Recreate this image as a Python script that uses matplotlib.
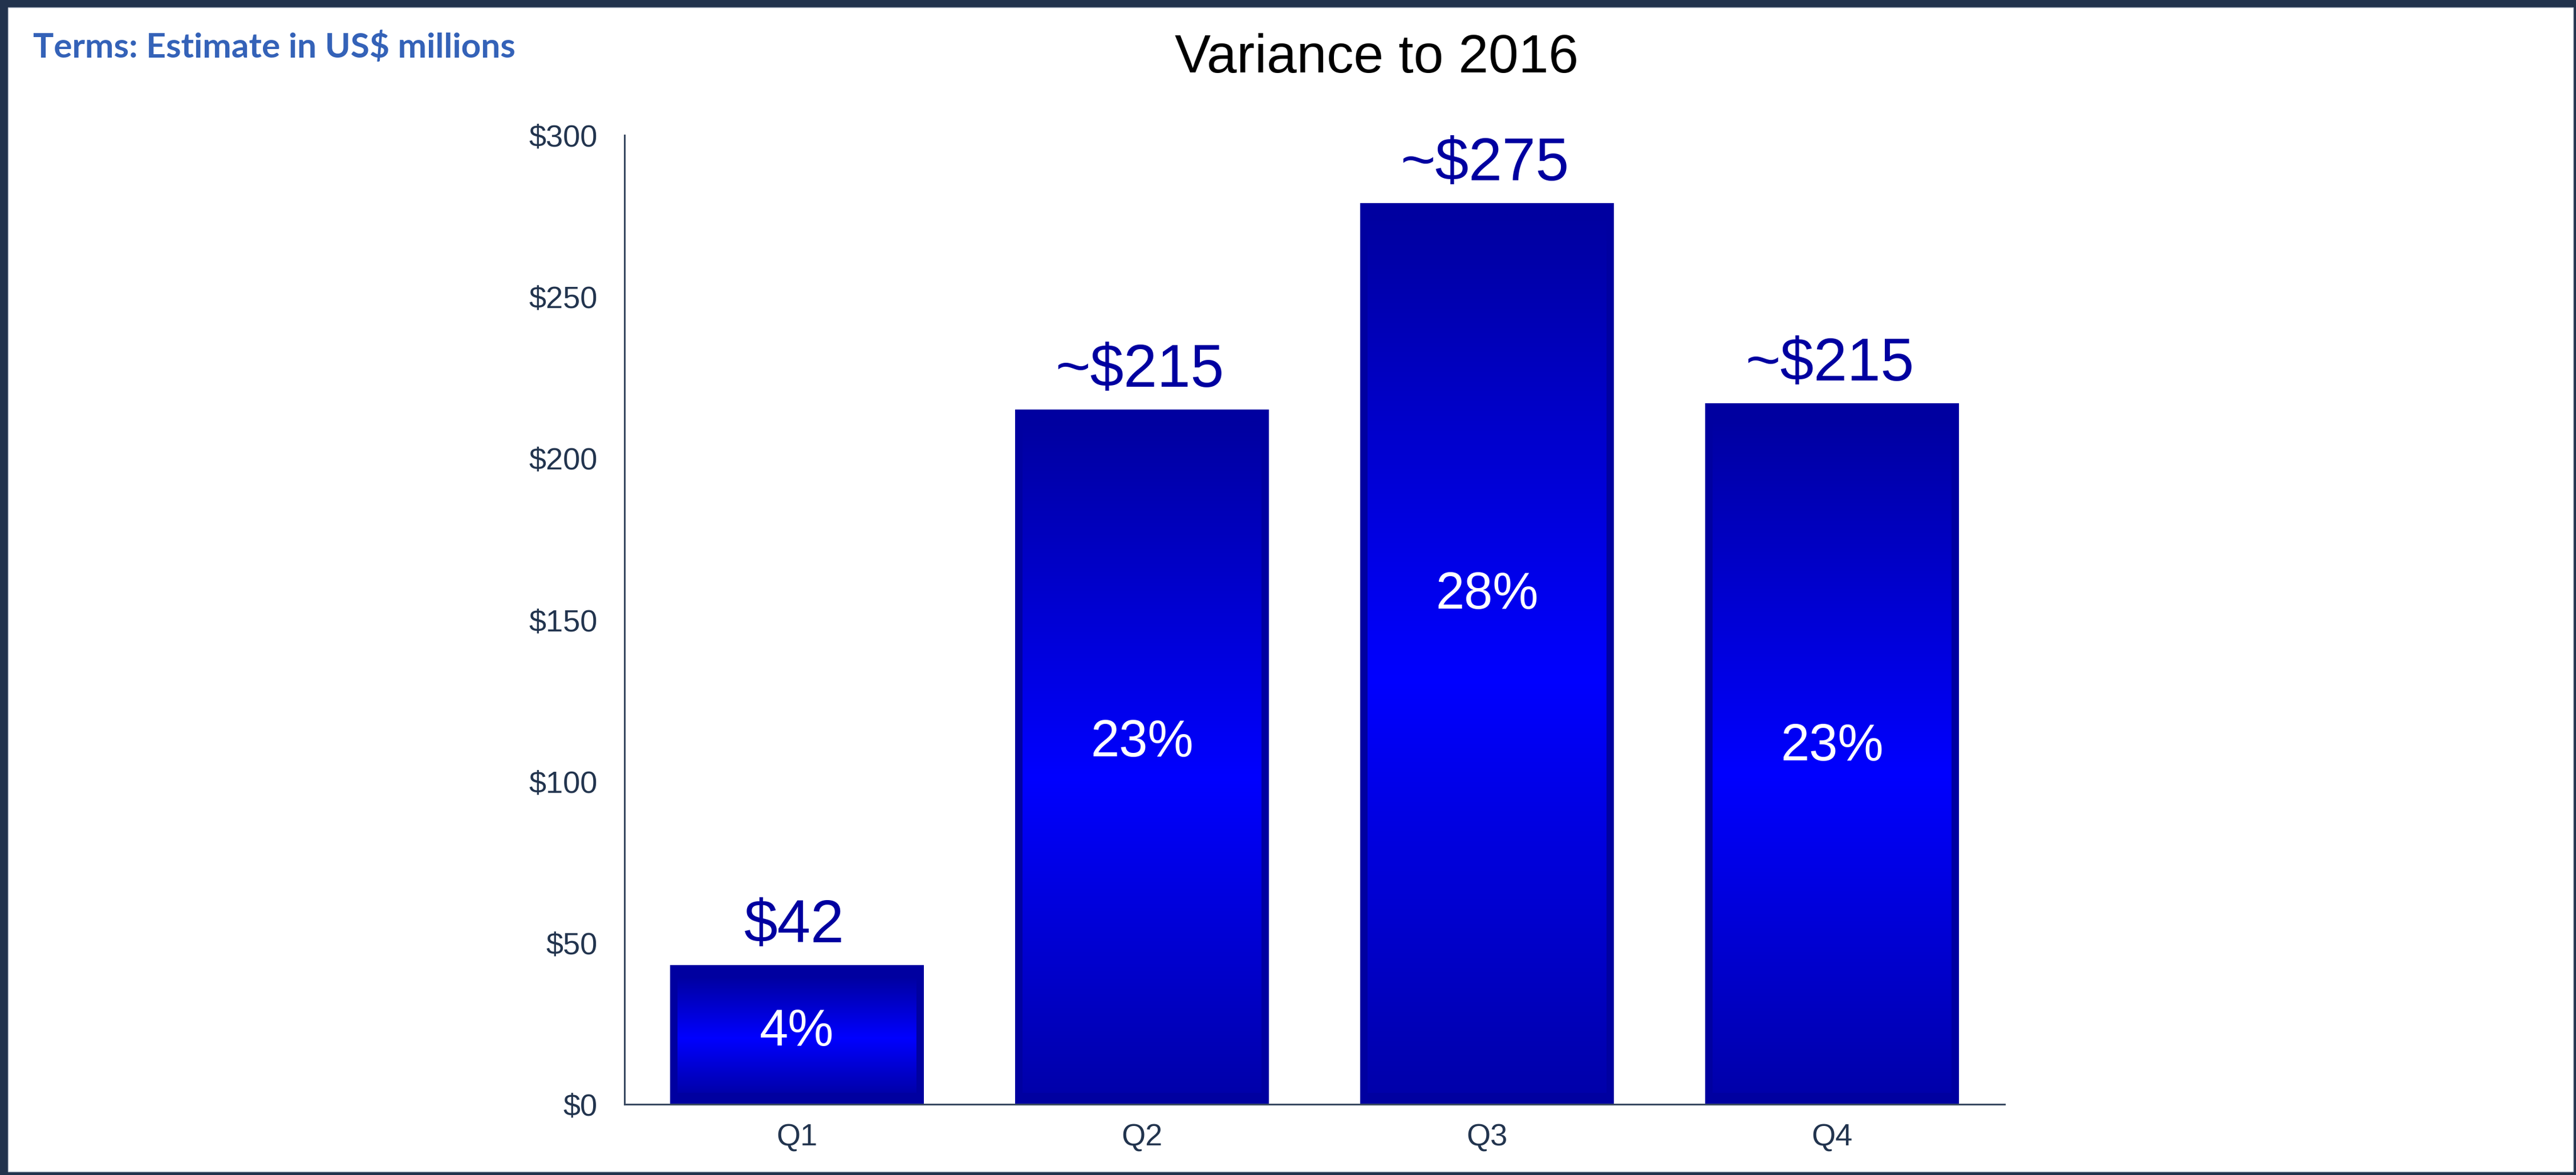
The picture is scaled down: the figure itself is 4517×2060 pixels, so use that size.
import numpy as np
import matplotlib
matplotlib.use("Agg")
import matplotlib.pyplot as plt
from matplotlib.patches import Rectangle
from matplotlib.ticker import FuncFormatter

plt.rcParams['font.family'] = ['Liberation Sans', 'DejaVu Sans']

# data
quarters = ['Q1', 'Q2', 'Q3', 'Q4']
variance = [43, 215, 279, 217]
value_labels = ['$42', '~$215', '~$275', '~$215']
pct_labels = ['4%', '23%', '28%', '23%']

# where the % label sits, as a share of the bar height
pct_pos = [0.52, 0.52, 0.565, 0.51]

W, H = 4517, 2060
navy = '#22334d'
dark_blue = '#0000a0'

fig = plt.figure(figsize=(W / 100, H / 100), dpi=100, facecolor=navy)
# white page inside the dark frame
fig.add_artist(Rectangle((14 / W, 6 / H), (W - 19) / W, (H - 19) / H,
                         transform=fig.transFigure, facecolor='white',
                         edgecolor='#b8c0cc', linewidth=1, zorder=0))

ax = fig.add_axes([1095 / W, 1 - 1936 / H, 2420 / W, 1699 / H])
ax.set_facecolor('none')

x = np.arange(len(quarters))
bars = ax.bar(x, variance, width=0.735, color=dark_blue, zorder=2)

# vertical gradient inside each bar: dark - bright - dark
t = np.linspace(0, 1, 256)
blue = 160 + 95 * (1 - np.abs(t - 0.47) / 0.53)
blue = np.clip(blue, 160, 255) / 255
grad = np.zeros((256, 1, 3))
grad[:, 0, 2] = blue

dx = 13 / 605
dy = 20 / 5.663
for b in bars:
    x0, w, h = b.get_x(), b.get_width(), b.get_height()
    ax.imshow(grad, extent=(x0 + dx, x0 + w - dx, dy, h - dy),
              origin='lower', aspect='auto', zorder=3, interpolation='bilinear')

for i, b in enumerate(bars):
    cx = b.get_x() + b.get_width() / 2
    h = b.get_height()
    ax.annotate(value_labels[i], (cx, h), xytext=(-3, 29), textcoords='offset points',
                ha='center', va='baseline', fontsize=76, color=dark_blue, zorder=5)
    ax.text(cx, h * pct_pos[i], pct_labels[i], ha='center', va='center',
            fontsize=65, color='white', zorder=5)

ax.set_xlim(-0.5, len(quarters) - 0.5)
ax.set_ylim(0, 300)
ax.set_yticks(np.arange(0, 301, 50))
ax.yaxis.set_major_formatter(FuncFormatter(lambda v, p: f'${v:.0f}'))
ax.set_xticks(x)
ax.set_xticklabels(quarters)

for s in ['top', 'right']:
    ax.spines[s].set_visible(False)
for s in ['left', 'bottom']:
    ax.spines[s].set_color('#3b4b63')
    ax.spines[s].set_linewidth(2.2)
    ax.spines[s].set_zorder(4)
ax.tick_params(axis='both', length=0, labelsize=39, labelcolor='#22344e')
ax.tick_params(axis='y', pad=34)
ax.tick_params(axis='x', pad=24)

fig.text(2414 / W, 1 - 127 / H, 'Variance to 2016', ha='center', va='baseline',
         fontsize=68, color='black')
fig.text(58 / W, 1 - 83 / H, 'Terms: Estimate in US$ millions', ha='left', va='center',
         fontsize=43.5, fontweight='bold', color='#3462b8', family=['Lato', 'DejaVu Sans'])

fig.savefig('out.png', dpi=100, facecolor=fig.get_facecolor())
